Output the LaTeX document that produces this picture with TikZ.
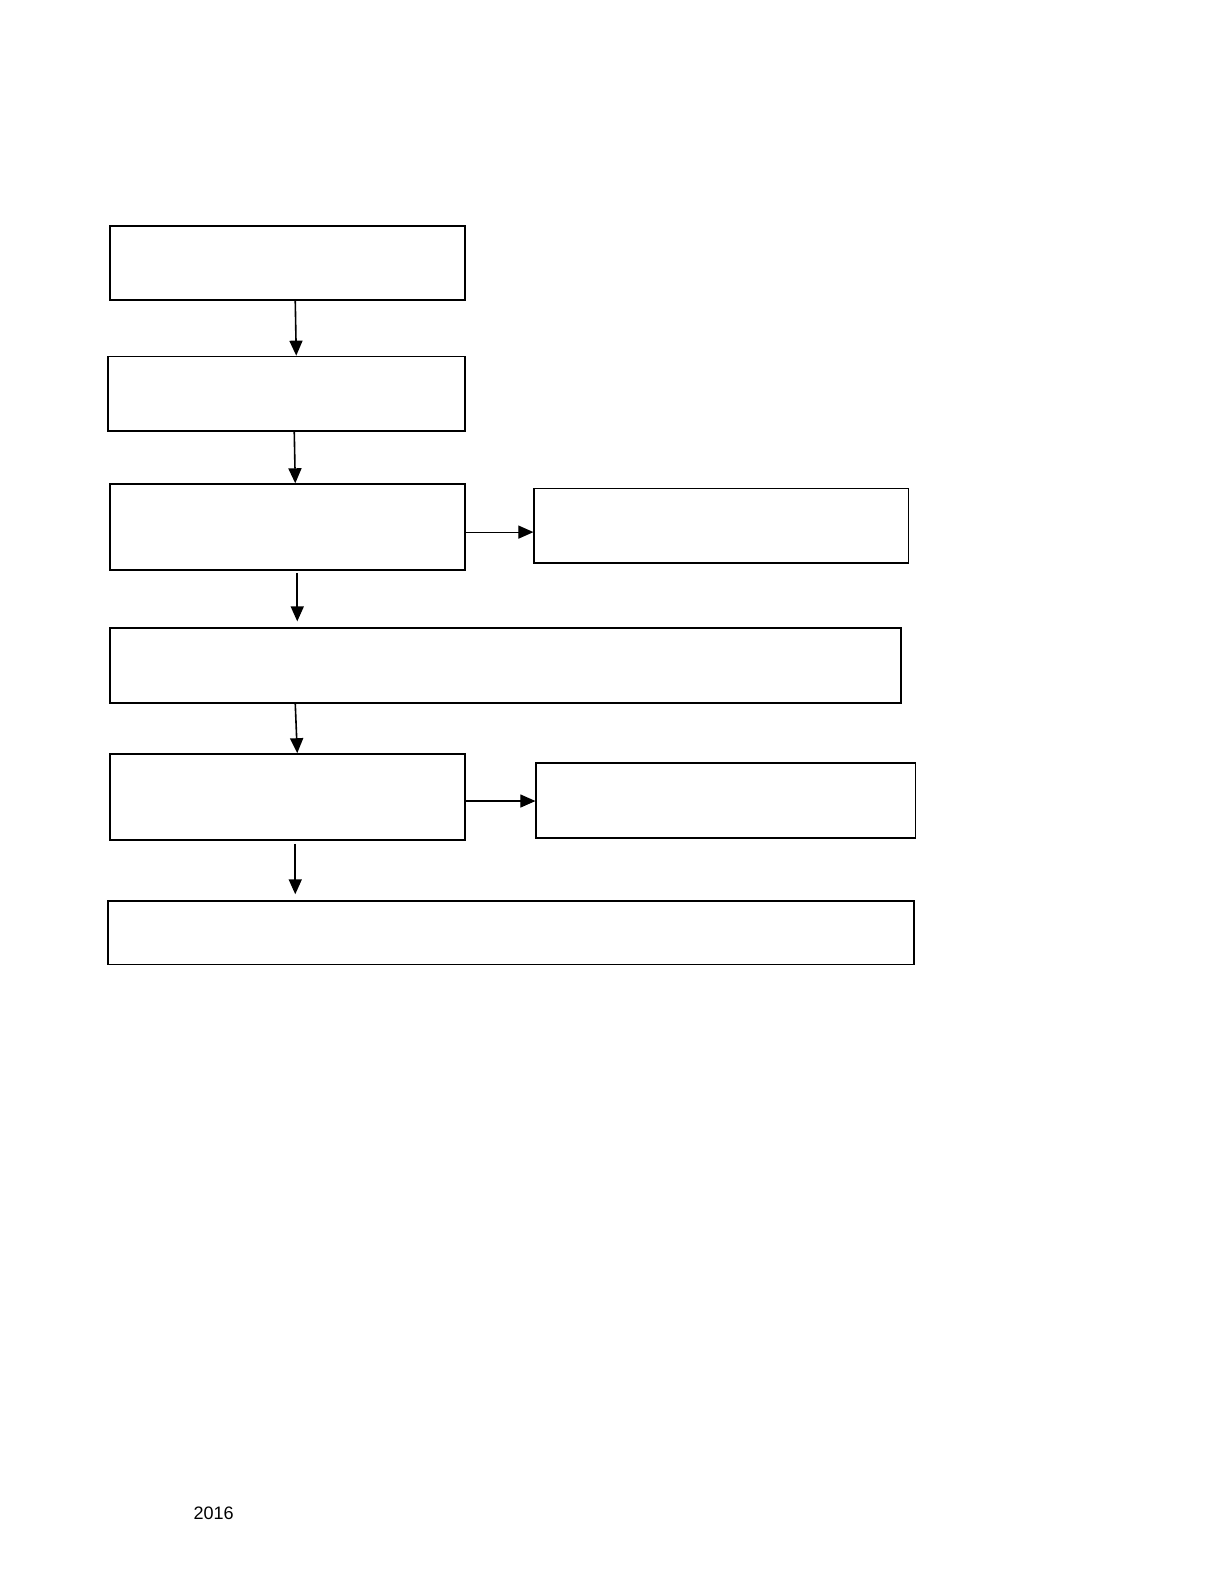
\documentclass[tikz,border=0pt]{standalone}
\usepackage{fontspec}
\setmainfont{Liberation Sans}
\usetikzlibrary{positioning,arrows.meta}
\tikzstyle{every node}=[anchor=north west]
\tikzstyle{stepbox}=[draw,line width=0.9pt,inner sep=0pt,minimum height=37.2pt]
\tikzstyle{flow}=[line width=0.8pt,-{Triangle[length=7.5pt,width=6.5pt]}]

\begin{document}
\begin{tikzpicture}[x=1pt,y=-1pt]
  \useasboundingbox (0,0) rectangle (612,792);
  % left column
  \node [stepbox,minimum width=177pt] (intake) at (54.6,112.2) {};
  \node [stepbox,minimum width=178pt] (review) at (53.6,177.5) {};
  \node [stepbox,minimum width=177pt,minimum height=42.8pt] (assess) at (54.6,241.2) {};
  \node [stepbox,minimum width=394.7pt] (decide) at (54.6,313.1) {};
  \node [stepbox,minimum width=177pt,minimum height=42.8pt] (process) at (54.6,375.9) {};
  \node [stepbox,minimum width=401.9pt,minimum height=31.6pt] (close) at (53.6,449.3) {};
  % right column
  \node [stepbox,minimum width=186.7pt] (assessnote) at (266.2,243.3) {};
  \node [stepbox,minimum width=189.2pt] (processnote) at (267.2,380.5) {};
  % footer
  \node [anchor=center,font=\fontsize{9}{11}\selectfont] (year) at (106.6,755.3) {2016};
  % connectors
  \draw [flow] ([xshift=3.8pt]intake.south) -- ([xshift=4.8pt]review.north);
  \draw [flow] ([xshift=3.8pt]review.south) -- ([xshift=3.8pt]assess.north);
  \draw [flow] ([xshift=4.8pt,yshift=-1pt]assess.south) -- ([xshift=4.8pt,yshift=3pt]assess.south |- decide.north);
  \draw [flow] ([xshift=3.8pt]process.north |- decide.south) -- ([xshift=4.8pt]process.north);
  \draw [flow] ([xshift=3.8pt,yshift=-1.5pt]process.south) -- ([xshift=3.8pt,yshift=3pt]process.south |- close.north);
  \draw [flow,line width=0.6pt] ([yshift=-2.5pt]assess.east) -- ([yshift=-2.5pt]assess.east -| assessnote.west);
  \draw [flow,line width=0.6pt] ([yshift=-2pt]process.east) -- ([yshift=-2pt]process.east -| processnote.west);
\end{tikzpicture}
\end{document}
